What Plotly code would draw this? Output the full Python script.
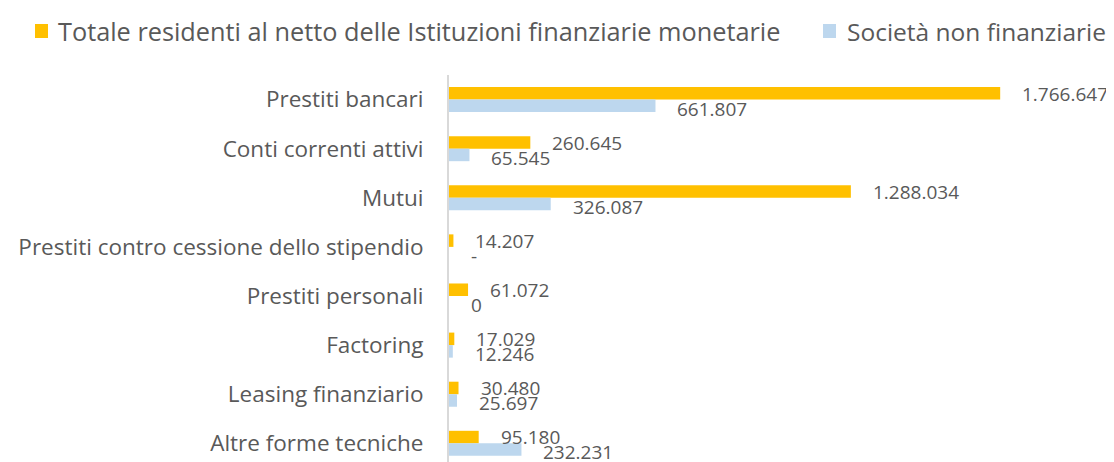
import plotly.graph_objects as go

categories = [
    "Prestiti bancari",
    "Conti correnti attivi",
    "Mutui",
    "Prestiti contro cessione dello stipendio",
    "Prestiti personali",
    "Factoring",
    "Leasing finanziario",
    "Altre forme tecniche",
]
totale = [1766647, 260645, 1288034, 14207, 61072, 17029, 30480, 95180]
societa = [661807, 65545, 326087, None, 0, 12246, 25697, 232231]

series_names = [
    "Totale residenti al netto delle Istituzioni finanziarie monetarie",
    "Società non finanziarie",
]
colors = ["#FFC000", "#BDD7EE"]
TEXT = "#595959"
FONT = "Open Sans"

# the page body has an 8px default margin: the figure is placed at (8, 8)
OFF = 8
W, H = 1114 - OFF, 462 - OFF
ML, MR, MT, MB = 449 - OFF, 41, 75 - OFF, 0
PW = W - ML - MR
PH = H - MT - MB


def fmt(v):
    if v is None:
        return "-"
    return f"{v:,}".replace(",", ".")


def px_x(p):
    return (p - OFF - ML) / PW


def px_y(p):
    return 1 - (p - OFF - MT) / PH


fig = go.Figure()
for name, vals, col in zip(series_names, [totale, societa], colors):
    fig.add_trace(go.Bar(
        y=categories, x=vals, name=name, orientation="h",
        marker=dict(color=col, line=dict(width=0)),
        hoverinfo="x+y", showlegend=False,
    ))

annotations = []
for vals, ys in [(totale, 6), (societa, -9)]:
    for c, v in zip(categories, vals):
        annotations.append(dict(
            x=(v or 0), y=c, xref="x", yref="y", text=fmt(v),
            showarrow=False, xanchor="left", yanchor="middle",
            xshift=20, yshift=ys,
            font=dict(family=FONT, size=19, color=TEXT),
        ))

# manual legend (single row as in the reference)
shapes = []
legend_items = [(35, 56, 25.3), (823, 845, 24.5)]
for (sq_x, tx_x, fs), name, col in zip(legend_items, series_names, colors):
    shapes.append(dict(
        type="rect", xref="paper", yref="paper",
        x0=px_x(sq_x), x1=px_x(sq_x + 13), y0=px_y(38), y1=px_y(24),
        fillcolor=col, line=dict(width=0),
    ))
    annotations.append(dict(
        x=px_x(tx_x), y=px_y(31), xref="paper", yref="paper",
        text=name, showarrow=False, xanchor="left", yanchor="middle",
        font=dict(family=FONT, size=fs, color=TEXT),
    ))

fig.update_layout(
    width=W, height=H,
    margin=dict(l=ML, r=MR, t=MT, b=MB, autoexpand=False),
    paper_bgcolor="white", plot_bgcolor="white",
    barmode="group", bargap=0.49, bargroupgap=0,
    font=dict(family=FONT, size=22.5, color=TEXT),
    showlegend=False,
    annotations=annotations,
    shapes=shapes,
    xaxis=dict(range=[0, 2000000], showgrid=False, zeroline=False,
               showticklabels=False, showline=False, fixedrange=True),
    yaxis=dict(range=[7.38, -0.5], showgrid=False, zeroline=False,
               showline=True, linecolor="#D9D9D9", linewidth=2,
               ticks="", ticklabelstandoff=19, automargin=False,
               tickfont=dict(family=FONT, size=22.5, color=TEXT)),
)

fig.write_html("out.html")
